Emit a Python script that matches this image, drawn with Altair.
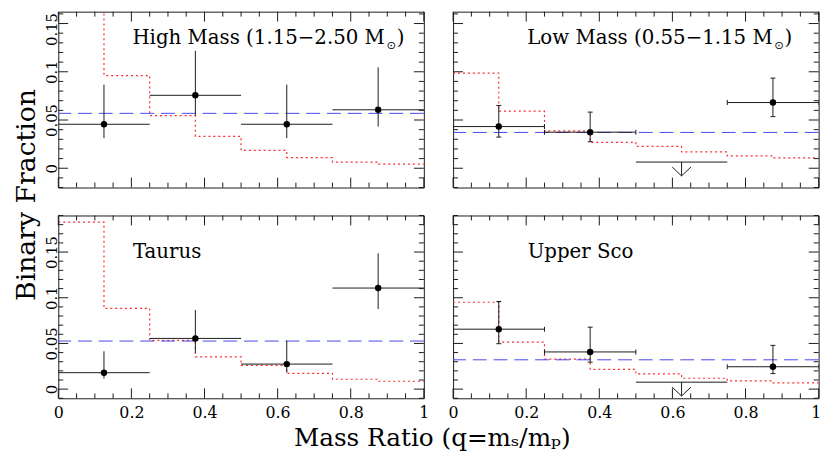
import altair as alt
import pandas as pd

W = 370
H_TOP, H_BOT = 178, 185
FONT = "DejaVu Serif"
INK = "#1a1a1a"
RED = "#ff2a2a"
BLUE = "#4646ee"

# ---- bins of the measured points ----
bin_center = [0.125, 0.375, 0.625, 0.875]
bin_lo = [0.0, 0.25, 0.5, 0.75]
bin_hi = [0.25, 0.5, 0.75, 1.0]
# ---- edges of the model histogram (red dotted) ----
model_edge = [0.0, 0.125, 0.25, 0.375, 0.5, 0.625, 0.75, 0.875, 1.0]

# ---- High Mass ----
hm_val = [0.0456, 0.0756, 0.0456, 0.0606]
hm_hi = [0.0866, 0.1217, 0.0866, 0.1047]
hm_lo = [0.0312, 0.0545, 0.0312, 0.0432]
hm_limit = [None, None, None, None]
hm_model = [0.200, 0.0961, 0.0545, 0.0330, 0.0186, 0.0111, 0.0064, 0.0043]
hm_level = 0.0569

# ---- Low Mass ----
lm_val = [0.0432, 0.0374, None, 0.0681]
lm_hi = [0.0651, 0.0582, None, 0.0934]
lm_lo = [0.0323, 0.0275, None, 0.0535]
lm_limit = [None, None, 0.0064, None]
lm_model = [0.0986, 0.0592, 0.0387, 0.0268, 0.0227, 0.0169, 0.0128, 0.0108]
lm_level = 0.0371

# ---- Taurus ----
ta_val = [0.0180, 0.0555, 0.0274, 0.1106]
ta_hi = [0.0414, 0.0865, 0.0530, 0.1485]
ta_lo = [0.0116, 0.0397, 0.0180, 0.0876]
ta_limit = [None, None, None, None]
ta_model = [0.1827, 0.0883, 0.0533, 0.0353, 0.0259, 0.0173, 0.0108, 0.0086]
ta_level = 0.0526

# ---- Upper Sco ----
us_val = [0.0656, 0.0407, None, 0.0245]
us_hi = [0.0959, 0.0678, None, 0.0479]
us_lo = [0.0497, 0.0295, None, 0.0170]
us_limit = [None, None, 0.0076, None]
us_model = [0.0951, 0.0515, 0.0328, 0.0216, 0.0166, 0.0119, 0.0090, 0.0068]
us_level = 0.0321

# ---- axes ----
x_major = [0.0, 0.2, 0.4, 0.6, 0.8, 1.0]
x_minor = [0.05, 0.1, 0.15, 0.25, 0.3, 0.35, 0.45, 0.5, 0.55, 0.65, 0.7, 0.75, 0.85, 0.9, 0.95]
y_major = [0.0, 0.05, 0.1, 0.15]
y_minor_top = [-0.02, -0.01, 0.01, 0.02, 0.03, 0.04, 0.06, 0.07, 0.08, 0.09,
               0.11, 0.12, 0.13, 0.14, 0.16]
y_minor_bot = [-0.01, 0.01, 0.02, 0.03, 0.04, 0.06, 0.07, 0.08, 0.09,
               0.11, 0.12, 0.13, 0.14, 0.16, 0.17, 0.18, 0.19]
y_dom_top = [-0.02, 0.1623]
y_dom_bot = [-0.01, 0.19]

y_title = "Binary Fraction"
x_title = "Mass Ratio (q=m\u209b/m\u209a)"


def panel(vals, his, los, limits, model, level, ydom, yminor, H,
          left, bottom, caps, texts, top_label_shift=0, last_label_shift=0):
    xs = alt.Scale(domain=[0, 1], nice=False, zero=False)
    ys = alt.Scale(domain=ydom, nice=False, zero=False)
    if bottom:
        xaxis = alt.Axis(values=x_major, format=".1~f", ticks=False, tickSize=0,
                         domain=False, grid=False, labelFont=FONT, labelFontSize=16,
                         labelColor="black", labelBaseline="alphabetic",
                         labelPadding=19, labelFlush=False, labelOverlap=False,
                         labelOffset={"condition": {"test": "datum.value > 0.95",
                                                    "value": last_label_shift},
                                      "value": 0},
                         title=None)
    else:
        xaxis = None
    if left:
        yaxis = alt.Axis(values=y_major, format=".2~f", ticks=False, tickSize=0,
                         domain=False, grid=False, labelFont=FONT, labelFontSize=15,
                         labelColor="black", labelAngle=270, labelAlign="center",
                         labelBaseline="alphabetic", labelPadding=2,
                         labelOffset={"condition": {"test": "datum.value > 0.12",
                                                    "value": top_label_shift},
                                      "value": 0},
                         labelFlush=False, labelOverlap=False, title=None)
    else:
        yaxis = None

    def X(f):
        return alt.X(f, type="quantitative", scale=xs, axis=xaxis)

    def Y(f):
        return alt.Y(f, type="quantitative", scale=ys, axis=yaxis)

    rows = [dict(c=c, l=l, h=h, v=v, eh=eh, el=el)
            for c, l, h, v, eh, el in zip(bin_center, bin_lo, bin_hi, vals, his, los)
            if v is not None]
    pts = pd.DataFrame(rows)
    lim = pd.DataFrame([dict(c=c, l=l, h=h, u=u)
                        for c, l, h, u in zip(bin_center, bin_lo, bin_hi, limits)
                        if u is not None])
    mod = pd.DataFrame({"e": model_edge, "m": model + [model[-1]]})

    layers = []
    layers.append(alt.Chart(mod).mark_line(interpolate="step-after", color=RED,
                                           strokeDash=[2, 3], strokeWidth=1.2,
                                           clip=True)
                  .encode(x=X("e"), y=Y("m")))
    layers.append(alt.Chart(pd.DataFrame({"lev": [level]}))
                  .mark_rule(color=BLUE, strokeDash=[14, 7], strokeWidth=1)
                  .encode(y=Y("lev")))
    layers.append(alt.Chart(pts).mark_rule(color=INK, strokeWidth=1)
                  .encode(x=X("l"), x2="h", y=Y("v")))
    layers.append(alt.Chart(pts).mark_rule(color=INK, strokeWidth=1)
                  .encode(x=X("c"), y=Y("el"), y2="eh"))
    if caps:
        capv = pd.DataFrame({"c": list(pts["c"]) * 2,
                             "y": list(pts["eh"]) + list(pts["el"])})
        layers.append(alt.Chart(capv).mark_tick(orient="horizontal", size=5,
                                                thickness=1, color=INK, opacity=1)
                      .encode(x=X("c"), y=Y("y")))
        caph = pd.DataFrame({"x": list(pts["l"]) + list(pts["h"]),
                             "y": list(pts["v"]) * 2})
        layers.append(alt.Chart(caph).mark_tick(orient="vertical", size=5,
                                                thickness=1, color=INK, opacity=1,
                                                clip=True)
                      .encode(x=X("x"), y=Y("y")))
    layers.append(alt.Chart(pts).mark_circle(size=42, color="black", opacity=1)
                  .encode(x=X("c"), y=Y("v")))
    if len(lim):
        layers.append(alt.Chart(lim).mark_rule(color=INK, strokeWidth=1)
                      .encode(x=X("l"), x2="h", y=Y("u")))
        layers.append(alt.Chart(lim).mark_rule(color=INK, strokeWidth=1, y2Offset=14)
                      .encode(x=X("c"), y=Y("u"), y2="u"))
        layers.append(alt.Chart(lim).mark_point(shape="M -1 0 L 0 0.95 L 1 0",
                                                size=361, filled=False, color=INK,
                                                strokeWidth=1, opacity=1, yOffset=5)
                      .encode(x=X("c"), y=Y("u")))
    # frame ticks, drawn from the frame inwards
    for vals_, L in ((x_major, 10), (x_minor, 5)):
        df = pd.DataFrame({"v": vals_})
        for y0, y1 in ((0, L), (H, H - L)):
            layers.append(alt.Chart(df).mark_rule(color=INK, strokeWidth=1)
                          .encode(x=X("v"), y=alt.value(y0), y2=alt.value(y1)))
    for vals_, L in ((y_major, 10), (yminor, 5)):
        df = pd.DataFrame({"v": vals_})
        for x0, x1 in ((0, L), (W, W - L)):
            layers.append(alt.Chart(df).mark_rule(color=INK, strokeWidth=1)
                          .encode(y=Y("v"), x=alt.value(x0), x2=alt.value(x1)))
    for (t, x, y, align, size, font, angle) in texts:
        layers.append(alt.Chart(pd.DataFrame({"t": [t]}))
                      .mark_text(align=align, baseline="alphabetic", font=font,
                                 fontSize=size, color="black", angle=angle)
                      .encode(x=alt.value(x), y=alt.value(y), text="t:N"))
    return alt.layer(*layers).properties(width=W, height=H)


tl = panel(hm_val, hm_hi, hm_lo, hm_limit, hm_model, hm_level, y_dom_top, y_minor_top,
           H_TOP, True, False, False,
           [("High Mass (1.15\u22122.50 M", 330.5, 32.7, "right", 20, FONT, 0),
            ("\u2299", 337.0, 38.0, "center", 11.5, "DejaVu Sans", 0),
            (")", 342.5, 32.7, "left", 20, FONT, 0),
            (y_title, -24.0, 185.5, "center", 27, FONT, 270)],
           top_label_shift=5.5)
tr = panel(lm_val, lm_hi, lm_lo, lm_limit, lm_model, lm_level, y_dom_top, y_minor_top,
           H_TOP, False, False, True,
           [("Low Mass (0.55\u22121.15 M", 323.5, 32.7, "right", 20, FONT, 0),
            ("\u2299", 330.0, 38.0, "center", 11.5, "DejaVu Sans", 0),
            (")", 335.5, 32.7, "left", 20, FONT, 0)])
bl = panel(ta_val, ta_hi, ta_lo, ta_limit, ta_model, ta_level, y_dom_bot, y_minor_bot,
           H_BOT, True, True, False,
           [("Taurus", 75.5, 43, "left", 20, FONT, 0),
            (x_title, 378.5, 233.7, "center", 25, FONT, 0)])
br = panel(us_val, us_hi, us_lo, us_limit, us_model, us_level, y_dom_bot, y_minor_bot,
           H_BOT, False, True, True,
           [("Upper Sco", 75.5, 43, "left", 20, FONT, 0)],
           last_label_shift=-3)

chart = alt.concat(tl, tr, bl, br, columns=2,
                   spacing={"row": 28.3, "column": 29.6},
                   bounds="flush").properties(
    padding={"left": 3.9, "top": 0, "right": 0, "bottom": 0},
    background="white",
).configure_view(stroke=INK, strokeWidth=1)

chart.save("out.html", embed_options={"renderer": "svg", "actions": False})
